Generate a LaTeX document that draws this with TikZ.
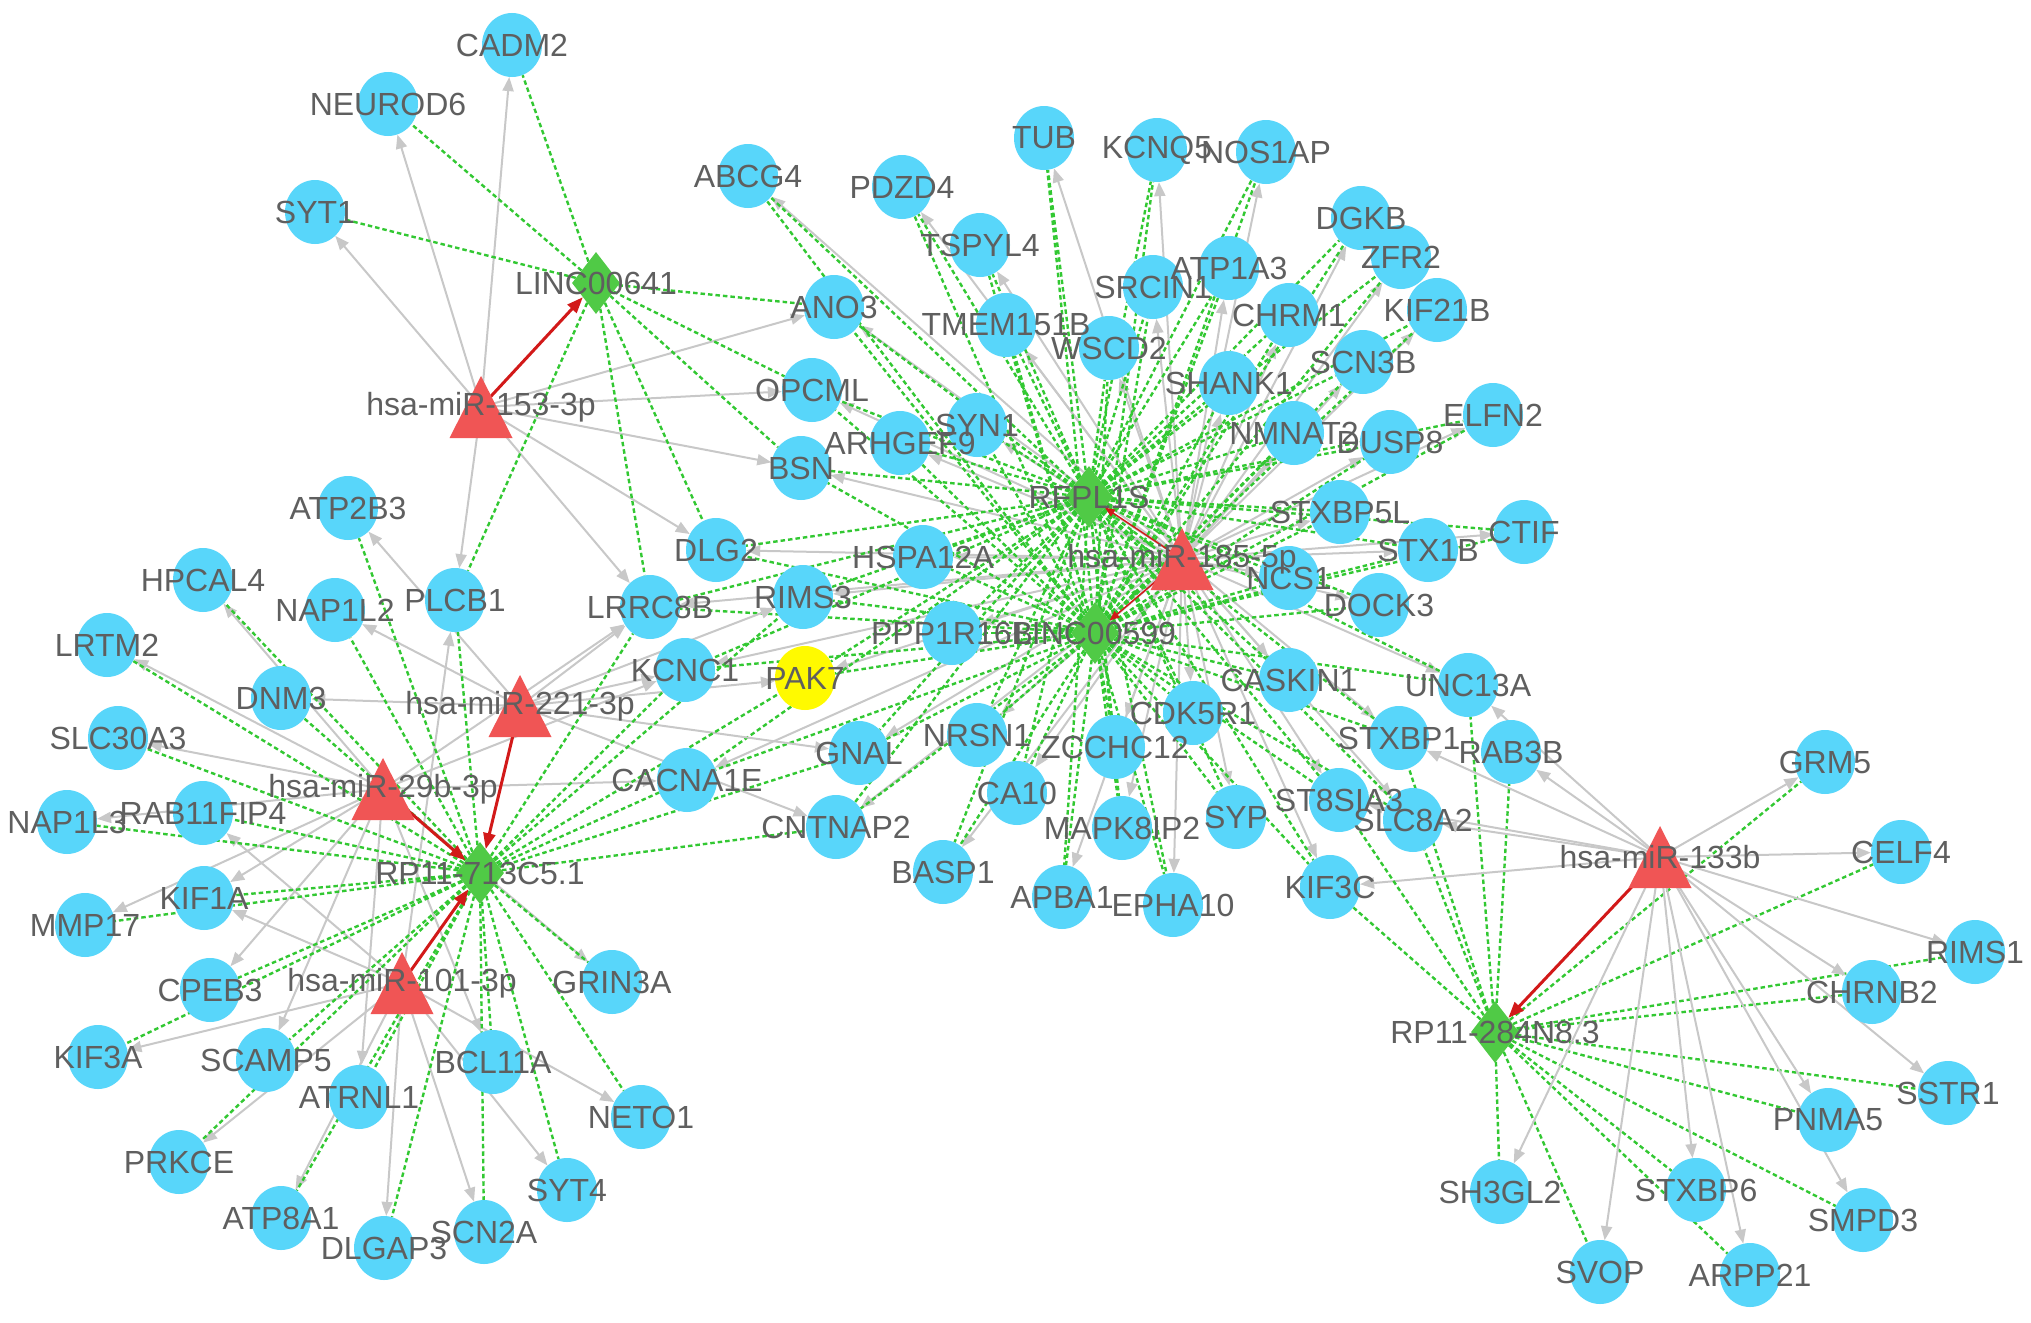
\documentclass[tikz,border=0pt]{standalone}
\usepackage{fontspec}
\setmainfont{Liberation Sans}
\usetikzlibrary{shapes.geometric,arrows.meta}
\definecolor{genec}{RGB}{88,214,250}
\definecolor{lncc}{RGB}{80,202,70}
\definecolor{tric}{RGB}{240,85,85}
\definecolor{yelc}{RGB}{255,250,0}
\definecolor{labc}{RGB}{95,95,95}
\definecolor{edgec}{RGB}{200,200,200}
\definecolor{dashc}{RGB}{50,200,50}
\definecolor{redc}{RGB}{210,25,25}
\pgfdeclarelayer{bg}
\pgfdeclarelayer{edges}
\pgfsetlayers{bg,edges,main}
\begin{document}
\begin{tikzpicture}[x=1pt,y=-1pt,
  gene/.style={ellipse, fill=genec, minimum width=60pt, minimum height=64pt, inner sep=0pt},
  lnc/.style={diamond, fill=lncc, minimum width=48pt, minimum height=62pt, inner sep=0pt},
  lab/.style={text=labc, font=\fontsize{32}{37}\selectfont, inner sep=0pt},
  gedge/.style={draw=edgec, line width=2pt, -{Triangle[length=14pt,width=11pt]}},
  dedge/.style={draw=dashc, line width=2.4pt, dash pattern=on 4.5pt off 3pt},
  redge/.style={draw=redc, line width=3pt, -{Triangle[length=16pt,width=12pt]}},
  redgethin/.style={draw=redc, line width=1.5pt, -{Triangle[length=10pt,width=8pt]}}
]
\begin{pgfonlayer}{bg}
\fill[white] (0,0) rectangle (2031,1322);
\end{pgfonlayer}
\useasboundingbox (0,0) rectangle (2031,1322);

% ---------- gene nodes ----------
\foreach \n/\x/\y in {
CADM2/512/45, NEUROD6/388/104, SYT1/315/212, ABCG4/748/176, PDZD4/902/187,
TUB/1044/138, KCNQ5/1157/150, NOS1AP/1266/152, DGKB/1361/218, ZFR2/1401/257,
TSPYL4/980/245, ATP1A3/1229/268, SRCIN1/1153/287, KIF21B/1437/310, ANO3/834/307,
TMEM151B/1006/325, CHRM1/1289/315, WSCD2/1109/348, SCN3B/1363/362, SHANK1/1229/383,
OPCML/812/390, ELFN2/1493/415, SYN1/977/425, ARHGEF9/900/443, NMNAT2/1294/433,
DUSP8/1390/442, BSN/801/468, STXBP5L/1340/512, CTIF/1524/532, STX1B/1428/550,
NCS1/1289/578, DOCK3/1379/605, ATP2B3/348/508, DLG2/716/550, HSPA12A/923/557,
HPCAL4/203/580, NAP1L2/335/610, PLCB1/455/600, LRRC8B/650/607, RIMS3/803/597,
PPP1R16B/952/633, LRTM2/107/645, DNM3/281/698, KCNC1/685/670,
CASKIN1/1289/680, UNC13A/1468/685, CDK5R1/1193/713, SLC30A3/118/738, GNAL/859/753,
NRSN1/977/735, ZCCHC12/1115/747, STXBP1/1399/738, RAB3B/1511/752, GRM5/1825/762,
RAB11FIP4/203/813, NAP1L3/67/822, CACNA1E/687/780, CA10/1017/793, ST8SIA3/1339/800,
SLC8A2/1413/820, SYP/1236/817, CNTNAP2/836/827, MAPK8IP2/1122/828, CELF4/1901/852,
BASP1/943/872, APBA1/1062/897, EPHA10/1173/905, KIF3C/1330/887, KIF1A/204/898,
MMP17/85/925, RIMS1/1975/952, CHRNB2/1872/992, CPEB3/210/990, GRIN3A/612/982,
KIF3A/98/1057, SCAMP5/266/1060, BCL11A/493/1062, ATRNL1/359/1097, SSTR1/1948/1093,
NETO1/641/1117, PNMA5/1828/1120, PRKCE/179/1162, SYT4/567/1190, SH3GL2/1500/1192,
STXBP6/1696/1190, SMPD3/1863/1220, ATP8A1/281/1218, DLGAP3/384/1248, SCN2A/484/1232,
SVOP/1600/1272, ARPP21/1750/1275}
  {\node[gene] (\n) at (\x,\y) {};}
\node[gene, fill=yelc] (PAK7) at (805,678) {};

% ---------- lncRNA nodes ----------
\node[lnc] (dL641) at (596,283) {};
\node[lnc] (dRF) at (1089,497) {};
\node[lnc] (dL599) at (1095,633) {};
\node[lnc] (d713) at (480,873) {};
\node[lnc] (d284) at (1495,1032) {};

% ---------- miRNA nodes ----------
\foreach \n/\x/\y in {m153/481/407, m221/520/706, m29b/383/789, m101/402/983, m185/1182/559, m133/1660/857}
  {\coordinate (\n) at (\x,\y);
   \fill[tric] (\x-31.5,\y+31) -- (\x,\y-31) -- (\x+31.5,\y+31) -- cycle;}

% ---------- edges ----------
\begin{pgfonlayer}{edges}
% miR-153-3p / LINC00641
\foreach \t in {CADM2,NEUROD6,SYT1,ANO3,OPCML,BSN,DLG2,LRRC8B,PLCB1}
  {\draw[gedge] (m153) -- (\t); \draw[dedge] (dL641) -- (\t);}
% centre: miR-185-5p / RFPL1S / LINC00599
\foreach \t in {ABCG4,PDZD4,TUB,KCNQ5,NOS1AP,DGKB,ZFR2,TSPYL4,ATP1A3,SRCIN1,KIF21B,ANO3,
  TMEM151B,CHRM1,WSCD2,SCN3B,SHANK1,OPCML,ELFN2,SYN1,ARHGEF9,NMNAT2,DUSP8,BSN,STXBP5L,
  CTIF,STX1B,NCS1,DOCK3,DLG2,HSPA12A,RIMS3,PPP1R16B,KCNC1,PAK7,LRRC8B,CASKIN1,UNC13A,
  CDK5R1,GNAL,NRSN1,ZCCHC12,STXBP1,CACNA1E,CA10,ST8SIA3,SLC8A2,SYP,CNTNAP2,MAPK8IP2,
  BASP1,APBA1,EPHA10,KIF3C}
  {\draw[gedge] (m185) -- (\t);}
\foreach \t in {ABCG4,PDZD4,TUB,KCNQ5,NOS1AP,DGKB,ZFR2,TSPYL4,ATP1A3,SRCIN1,KIF21B,ANO3,
  TMEM151B,CHRM1,WSCD2,SCN3B,SHANK1,OPCML,ELFN2,SYN1,ARHGEF9,NMNAT2,DUSP8,BSN,STXBP5L,
  CTIF,STX1B,NCS1,DOCK3,DLG2,HSPA12A,RIMS3,PPP1R16B,KCNC1,PAK7,LRRC8B,CASKIN1,UNC13A,
  CDK5R1,GNAL,NRSN1,ZCCHC12,STXBP1,CACNA1E,CA10,ST8SIA3,SLC8A2,SYP,CNTNAP2,MAPK8IP2,
  BASP1,APBA1,EPHA10,KIF3C}
  {\draw[dedge] (dRF) -- (\t); \draw[dedge] (dL599) -- (\t);}
% left cluster
\foreach \t in {DNM3,NAP1L2,ATP2B3,LRRC8B,KCNC1,RIMS3,PAK7,GNAL,CNTNAP2}
  {\draw[gedge] (m221) -- (\t);}
\foreach \t in {LRTM2,HPCAL4,SLC30A3,NAP1L3,KIF1A,MMP17,CPEB3,SCAMP5,ATRNL1,BCL11A,GRIN3A,CACNA1E,LRRC8B,KCNC1}
  {\draw[gedge] (m29b) -- (\t);}
\foreach \t in {PLCB1,RAB11FIP4,KIF1A,KIF3A,PRKCE,ATP8A1,DLGAP3,SCN2A,SYT4,NETO1}
  {\draw[gedge] (m101) -- (\t);}
\foreach \t in {DNM3,NAP1L2,ATP2B3,LRRC8B,KCNC1,RIMS3,PAK7,GNAL,CNTNAP2,LRTM2,HPCAL4,
  SLC30A3,NAP1L3,KIF1A,MMP17,CPEB3,SCAMP5,ATRNL1,BCL11A,GRIN3A,CACNA1E,PLCB1,RAB11FIP4,
  KIF3A,PRKCE,ATP8A1,DLGAP3,SCN2A,SYT4,NETO1}
  {\draw[dedge] (d713) -- (\t);}
% right cluster
\foreach \t in {GRM5,CELF4,RIMS1,CHRNB2,SSTR1,PNMA5,SMPD3,ARPP21,STXBP6,SVOP,SH3GL2,
  RAB3B,UNC13A,STXBP1,SLC8A2,KIF3C,ST8SIA3}
  {\draw[gedge] (m133) -- (\t); \draw[dedge] (d284) -- (\t);}
% miRNA -> lncRNA
\draw[redge] (m153) -- (dL641);
\draw[redge] (m221) -- (d713);
\draw[redge] (m29b) -- (d713);
\draw[redge] (m101) -- (d713);
\draw[redge] (m133) -- (d284);
\draw[redgethin] (m185) -- (dRF);
\draw[redgethin] (m185) -- (dL599);
\end{pgfonlayer}

% ---------- labels ----------
\foreach \n in {CADM2,NEUROD6,SYT1,ABCG4,PDZD4,TUB,KCNQ5,NOS1AP,DGKB,ZFR2,TSPYL4,ATP1A3,
  SRCIN1,KIF21B,ANO3,TMEM151B,CHRM1,WSCD2,SCN3B,SHANK1,OPCML,ELFN2,SYN1,ARHGEF9,NMNAT2,
  DUSP8,BSN,STXBP5L,CTIF,STX1B,NCS1,DOCK3,ATP2B3,DLG2,HSPA12A,HPCAL4,NAP1L2,PLCB1,LRRC8B,
  RIMS3,PPP1R16B,LRTM2,DNM3,KCNC1,PAK7,CASKIN1,UNC13A,CDK5R1,SLC30A3,GNAL,NRSN1,ZCCHC12,
  STXBP1,RAB3B,GRM5,RAB11FIP4,NAP1L3,CACNA1E,CA10,ST8SIA3,SLC8A2,SYP,CNTNAP2,MAPK8IP2,
  CELF4,BASP1,APBA1,EPHA10,KIF3C,KIF1A,MMP17,RIMS1,CHRNB2,CPEB3,GRIN3A,KIF3A,SCAMP5,
  BCL11A,ATRNL1,SSTR1,NETO1,PNMA5,PRKCE,SYT4,SH3GL2,STXBP6,SMPD3,ATP8A1,DLGAP3,SCN2A,
  SVOP,ARPP21}
  {\node[lab] (\n-t) at (\n) {\n};}
\node[lab] (dL641-t) at (dL641) {LINC00641};
\node[lab] (dRF-t) at (dRF) {RFPL1S};
\node[lab] (dL599-t) at (dL599) {LINC00599};
\node[lab] (d713-t) at (d713) {RP11-713C5.1};
\node[lab] (d284-t) at (d284) {RP11-284N8.3};
\node[lab] (m153-t) at (m153) {hsa-miR-153-3p};
\node[lab] (m221-t) at (m221) {hsa-miR-221-3p};
\node[lab] (m29b-t) at (m29b) {hsa-miR-29b-3p};
\node[lab] (m101-t) at (m101) {hsa-miR-101-3p};
\node[lab] (m185-t) at (m185) {hsa-miR-185-5p};
\node[lab] (m133-t) at (m133) {hsa-miR-133b};
\end{tikzpicture}
\end{document}
